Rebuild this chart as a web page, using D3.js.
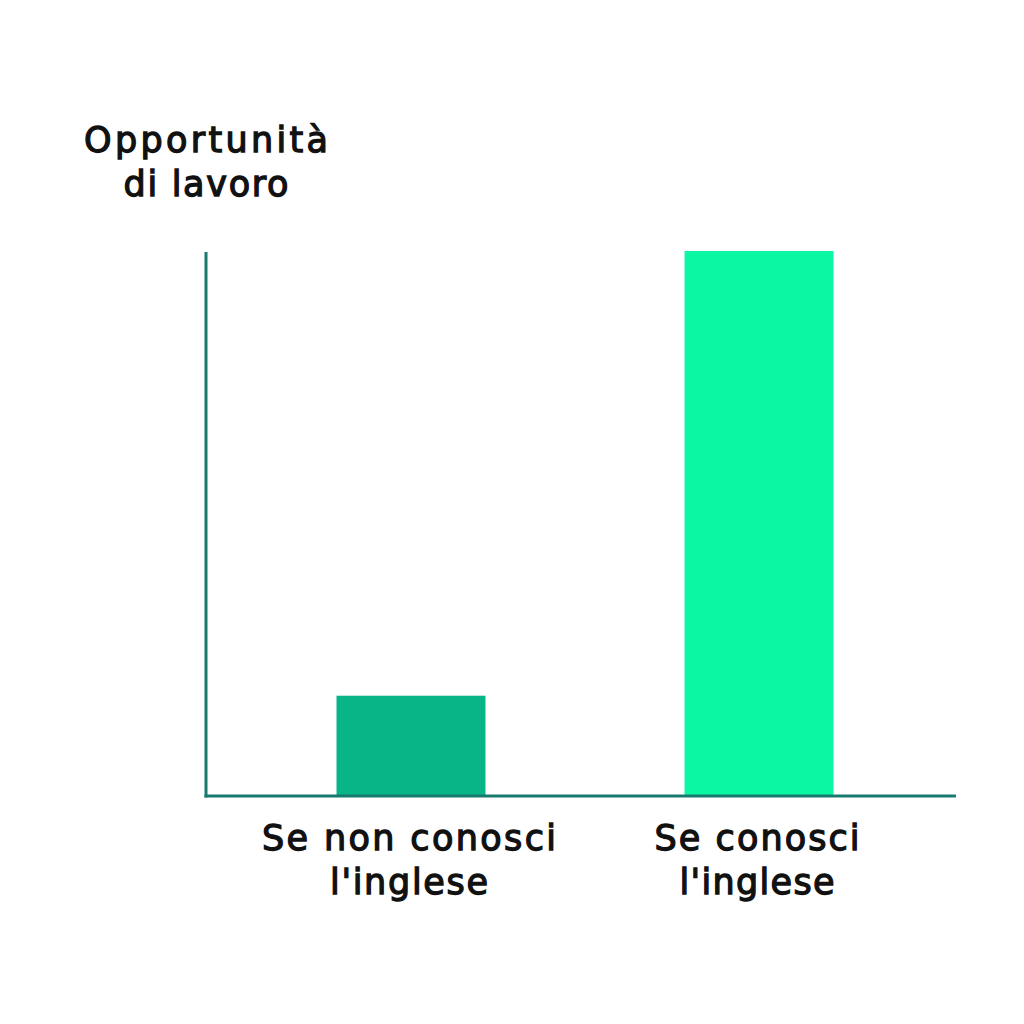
<!DOCTYPE html>
<html><head><meta charset="utf-8">
<script src="https://cdn.jsdelivr.net/npm/d3@7"></script>
<style>body{margin:0;background:#fff}svg{display:block}text{font-family:"DejaVu Sans",sans-serif;fill:#111;stroke:#111;stroke-width:1.3px;paint-order:stroke}</style>
</head><body>
<script>
const categories = [["Se non conosci","l'inglese"],["Se conosci","l'inglese"]];
const values = [18.4, 100];
const colors = ["#07B587","#0BF7A3"];
const yTitle = ["Opportunità","di lavoro"];

// layout: target rendered widths of each text line (px)
const catLineWidths = [[294,158],[205,155]];
const titleLineWidths = [244,165];

const W=1024,H=1024;
const svg=d3.select("body").append("svg").attr("width",W).attr("height",H);
const x=d3.scaleBand().domain(d3.range(categories.length)).range([206,964]).paddingInner(0.572).paddingOuter(0.375);
const y=d3.scaleLinear().domain([0,100]).range([796,251]);

svg.selectAll("rect.bar").data(values).join("rect").attr("class","bar")
  .attr("x",(d,i)=>x(i)).attr("width",x.bandwidth())
  .attr("y",d=>y(d)).attr("height",d=>y(0)-y(d))
  .attr("fill",(d,i)=>colors[i]);

const axisColor="#187a6f";
svg.append("line").attr("x1",206).attr("x2",206).attr("y1",252).attr("y2",797.5).attr("stroke",axisColor).attr("stroke-width",3);
svg.append("line").attr("x1",204.5).attr("x2",956).attr("y1",796).attr("y2",796).attr("stroke",axisColor).attr("stroke-width",3);

const lab=svg.append("g");
categories.forEach((c,i)=>{
  c.forEach((t,j)=>{
    lab.append("text").attr("x",x(i)+x.bandwidth()/2-2).attr("y",850+j*44)
      .attr("text-anchor","middle").attr("font-size",35)
      .attr("textLength",catLineWidths[i][j]).attr("lengthAdjust","spacing").text(t);
  });
});
yTitle.forEach((t,j)=>{
  svg.append("text").attr("x",206).attr("y",152+j*44).attr("text-anchor","middle")
    .attr("font-size",35).attr("textLength",titleLineWidths[j]).attr("lengthAdjust","spacing").text(t);
});
</script>
</body></html>
